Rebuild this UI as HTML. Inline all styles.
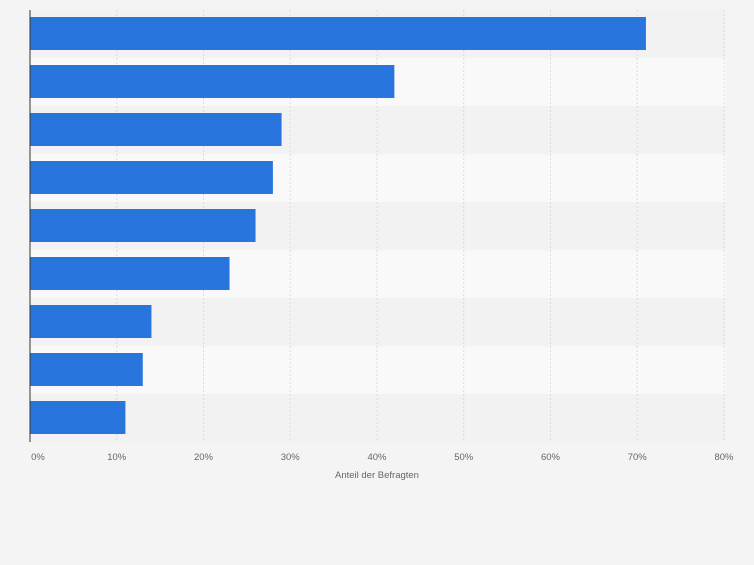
<!DOCTYPE html>
<html><head><meta charset="utf-8"><style>
body{margin:0;background:#f4f4f4;font-family:"Liberation Sans",sans-serif}
</style></head><body>
<svg id="chart" width="754" height="560" xmlns="http://www.w3.org/2000/svg"></svg>
<script>
const categories=["c1","c2","c3","c4","c5","c6","c7","c8","c9"];
const values=[71,42,29,28,26,23,14,13,11];
const ticks=[0,10,20,30,40,50,60,70,80];
const tickLabels=["0%","10%","20%","30%","40%","50%","60%","70%","80%"];
const svg=document.getElementById('chart');
const NS="http://www.w3.org/2000/svg";
const x0=30,x1=724,topY=10,band=48;
const x=v=>x0+(x1-x0)*v/80;
function mk(t,a,p){const e=document.createElementNS(NS,t);for(const k in a)e.setAttribute(k,a[k]);(p||svg).appendChild(e);return e;}
categories.forEach((c,i)=>{
  const r=mk('rect',{x:x0,y:topY+i*band,width:x1+2-x0,height:band,fill:i%2?'#f9f9f9':'#f2f2f2'});
  
  
});
ticks.forEach((t,i)=>{
  if(i>0){const g=mk('line',{x1:x(t),x2:x(t),y1:topY,y2:topY+band*categories.length,stroke:'#dcdcdc','stroke-dasharray':'2,2'});
  
  }
  const l=mk('text',{x:x(t)+(i==0?8:0),y:460,'font-size':9.5,fill:'#666','text-anchor':'middle'});
  l.textContent=tickLabels[i];
  
  
});
categories.forEach((c,i)=>{
  const b=mk('rect',{x:x0,y:topY+i*band+7,width:x(values[i])-x0,height:33,fill:'#2876dd'});
  
  
});
const ax=mk('line',{x1:x0,x2:x0,y1:topY,y2:topY+band*categories.length,stroke:'#333','stroke-width':1});


const tt=mk('text',{x:377,y:478,'font-size':9.5,fill:'#666','text-anchor':'middle'});
tt.textContent='Anteil der Befragten';


</script>
</body></html>
